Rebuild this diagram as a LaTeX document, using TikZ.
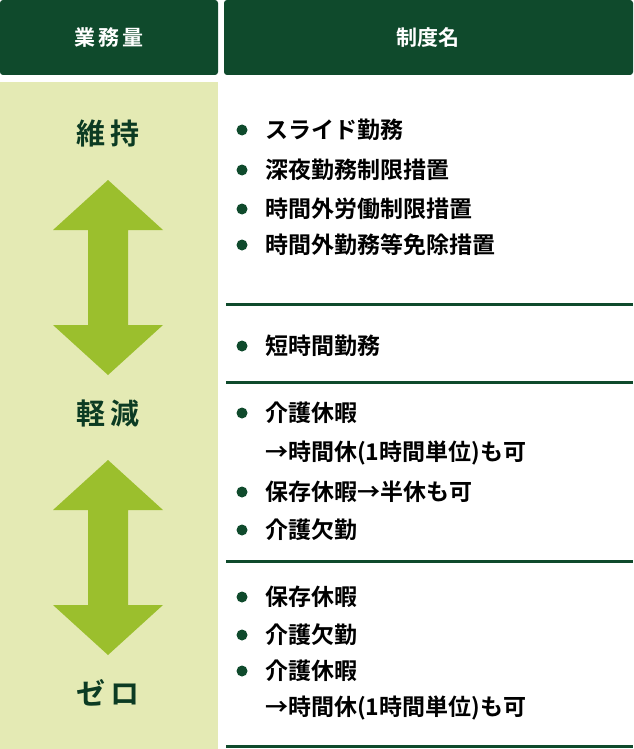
\documentclass[tikz,border=0pt]{standalone}
\usepackage{fontspec}
\newfontfamily\jp{Noto Sans CJK JP}[BoldFont=Noto Sans CJK JP Bold]
\definecolor{hdgreen}{HTML}{0F4A2C}
\definecolor{colgreen}{HTML}{E4EAB4}
\definecolor{arrgreen}{HTML}{9BBF2D}
\tikzset{
  head/.style={fill=hdgreen, rounded corners=3pt},
  headtext/.style={text=white, font=\jp\bfseries\fontsize{21}{25}\selectfont},
  level/.style={text=hdgreen!80!black, font=\jp\bfseries\fontsize{29}{33}\selectfont},
  item/.style={anchor=west, text=black, font=\jp\bfseries\fontsize{23}{27}\selectfont, inner sep=0pt},
  dot/.style={circle, fill=hdgreen, inner sep=0pt, minimum size=11pt},
  sep/.style={draw=hdgreen, line width=3pt}
}
\newcommand{\updown}[2]{% x-center, top y
  \fill[arrgreen] (#1,#2) -- ++(55,50) -- ++(-35,0) -- ++(0,95) -- ++(35,0)
    -- ++(-55,50) -- ++(-55,-50) -- ++(35,0) -- ++(0,-95) -- ++(-35,0) -- cycle;}
\begin{document}
\begin{tikzpicture}[x=1pt,y=-1pt]
\useasboundingbox (0,0) rectangle (633,749);
% headers
\fill[head] (0,0) rectangle (218,75);
\fill[head] (224,0) rectangle (633,75);
\node[headtext] (hload) at (109,38) {業\,務\,量};
\node[headtext] (hname) at (428,38) {制度名};
% left column
\fill[colgreen] (0,82) rectangle (218,749);
\node[level] (keep) at (108,133) {維\,持};
\node[level] (less) at (108,413) {軽\,減};
\node[level] (zero) at (108,693) {ゼ\,ロ};
\updown{108}{180}
\updown{108}{460}
% separators
\foreach \y in {304,382,561,746}
  \draw[sep] (226,\y) -- (633,\y);
% items
\foreach \y/\t [count=\i] in {130/スライド勤務, 170/深夜勤務制限措置, 209/時間外労働制限措置,
    245/時間外勤務等免除措置, 346/短時間勤務, 413/介護休暇, 492/保存休暇→半休も可,
    530/介護欠勤, 597/保存休暇, 635/介護欠勤, 671/介護休暇} {
  \node[dot] (d\i) at (242,\y) {};
  \node[item] (t\i) at (265,\y) {\t};
}
\node[item] (c1) at (265,453) {→時間休(1時間単位)も可};
\node[item] (c2) at (265,708) {→時間休(1時間単位)も可};
\end{tikzpicture}
\end{document}
